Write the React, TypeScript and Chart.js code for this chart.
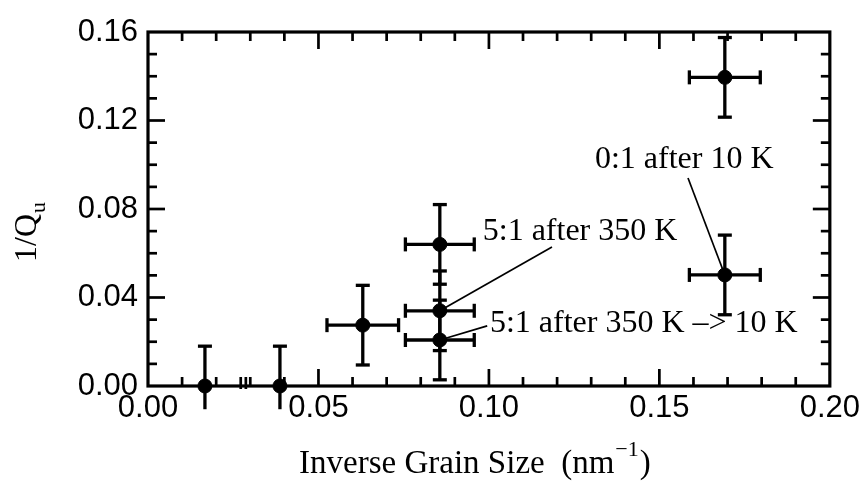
import React, { useEffect, useRef } from "react";
import { Chart, registerables } from "chart.js";

Chart.register(...registerables);

// ---- data ----
const xValues = [0.0167, 0.0387, 0.063, 0.0856, 0.0856, 0.0856, 0.1692, 0.1692];
const yValues = [0.0, 0.0, 0.0275, 0.064, 0.034, 0.0208, 0.1395, 0.0502];
const xErrors = [0, 0, 0.0105, 0.0101, 0.0101, 0.0101, 0.0104, 0.0104];
const yErrorsPlus = [0.018, 0.018, 0.018, 0.018, 0.018, 0.018, 0.018, 0.018];
const yErrorsMinus = [0.0105, 0.0105, 0.018, 0.018, 0.018, 0.018, 0.018, 0.018];

const xMin = 0;
const xMax = 0.2;
const xMajorStep = 0.05;
const xMinorStep = 0.01;
const yMin = 0;
const yMax = 0.16;
const yMajorStep = 0.04;
const yMinorStep = 0.01;
const axisBreakValues = [0.0272, 0.0287];

// annotations: text, text anchor (data units, left/baseline), leader from point index to end
const annotationTexts = ["5:1 after 350 K", "5:1 after 350 K \u2013> 10 K", "0:1 after 10 K"];
const annotationX = [0.0982, 0.1003, 0.1311];
const annotationY = [0.066, 0.0244, 0.0986];
const leaderPointIndex = [4, 5, 7];
const leaderEndX = [0.1185, 0.0995, 0.1584];
const leaderEndY = [0.0628, 0.0272, 0.094];

const xTitleMain = "Inverse Grain Size  (nm";
const xTitleSup = "\u22121";
const xTitleEnd = ")";
const yTitleMain = "1/Q";
const yTitleSub = "u";

const SERIF = "'Liberation Serif', 'Times New Roman', serif";
const SANS = "'Liberation Sans', Arial, sans-serif";

export default function App() {
  const ref = useRef<HTMLCanvasElement>(null);

  useEffect(() => {
    document.body.style.margin = "0";
    const canvas = ref.current;
    if (!canvas) return;

    const line = (ctx: CanvasRenderingContext2D, x1: number, y1: number, x2: number, y2: number) => {
      ctx.beginPath();
      ctx.moveTo(x1, y1);
      ctx.lineTo(x2, y2);
      ctx.stroke();
    };

    const decor = {
      id: "decor",
      beforeDatasetsDraw(chart: any) {
        const ctx: CanvasRenderingContext2D = chart.ctx;
        const xs = chart.scales.x;
        const ys = chart.scales.y;
        ctx.save();
        ctx.strokeStyle = "#000";
        ctx.lineCap = "butt";
        const cap = 7;
        // error bars
        ctx.lineWidth = 3.3;
        for (let i = 0; i < xValues.length; i++) {
          const px = xs.getPixelForValue(xValues[i]);
          const py = ys.getPixelForValue(yValues[i]);
          const top = ys.getPixelForValue(yValues[i] + yErrorsPlus[i]);
          const lowVal = yValues[i] - yErrorsMinus[i];
          const bot = ys.getPixelForValue(lowVal);
          line(ctx, px, top, px, bot);
          line(ctx, px - cap, top, px + cap, top);
          if (lowVal >= yMin) line(ctx, px - cap, bot, px + cap, bot);
          if (xErrors[i] > 0) {
            const l = xs.getPixelForValue(xValues[i] - xErrors[i]);
            const r = xs.getPixelForValue(xValues[i] + xErrors[i]);
            line(ctx, l, py, r, py);
            line(ctx, l, py - cap, l, py + cap);
            line(ctx, r, py - cap, r, py + cap);
          }
        }
        // leader lines
        ctx.lineWidth = 1.7;
        for (let a = 0; a < annotationTexts.length; a++) {
          const i = leaderPointIndex[a];
          line(
            ctx,
            xs.getPixelForValue(xValues[i]),
            ys.getPixelForValue(yValues[i]),
            xs.getPixelForValue(leaderEndX[a]),
            ys.getPixelForValue(leaderEndY[a])
          );
        }
        ctx.restore();
      },
      afterDraw(chart: any) {
        const ctx: CanvasRenderingContext2D = chart.ctx;
        const xs = chart.scales.x;
        const ys = chart.scales.y;
        const { left, right, top, bottom } = chart.chartArea;
        ctx.save();
        ctx.strokeStyle = "#000";
        ctx.fillStyle = "#000";
        // ticks (inward, mirrored)
        ctx.lineWidth = 2.7;
        const majorLen = 17;
        const minorLen = 9;
        const nx = Math.round((xMax - xMin) / xMinorStep);
        const perMajorX = Math.round(xMajorStep / xMinorStep);
        for (let k = 1; k < nx; k++) {
          const v = xMin + k * xMinorStep;
          const px = xs.getPixelForValue(v);
          const len = k % perMajorX === 0 ? majorLen : minorLen;
          line(ctx, px, bottom, px, bottom - len);
          line(ctx, px, top, px, top + len);
        }
        const ny = Math.round((yMax - yMin) / yMinorStep);
        const perMajorY = Math.round(yMajorStep / yMinorStep);
        for (let k = 1; k < ny; k++) {
          const v = yMin + k * yMinorStep;
          const py = ys.getPixelForValue(v);
          const len = k % perMajorY === 0 ? majorLen : minorLen;
          line(ctx, left, py, left + len, py);
          line(ctx, right, py, right - len, py);
        }
        // axis break marks
        ctx.lineWidth = 2.7;
        for (const b of axisBreakValues) {
          const px = xs.getPixelForValue(b);
          line(ctx, px, bottom - 9, px, bottom + 3);
        }
        // frame
        ctx.lineWidth = 3.2;
        ctx.strokeRect(left, top, right - left, bottom - top);

        // annotation texts
        ctx.font = `32px ${SERIF}`;
        ctx.textAlign = "left";
        ctx.textBaseline = "alphabetic";
        for (let a = 0; a < annotationTexts.length; a++) {
          ctx.fillText(
            annotationTexts[a],
            xs.getPixelForValue(annotationX[a]),
            ys.getPixelForValue(annotationY[a])
          );
        }

        // x title
        ctx.font = `33px ${SERIF}`;
        const w1 = ctx.measureText(xTitleMain).width;
        ctx.font = `22px ${SERIF}`;
        const w2 = ctx.measureText(xTitleSup).width;
        ctx.font = `33px ${SERIF}`;
        const w3 = ctx.measureText(xTitleEnd).width;
        const total = w1 + w2 + w3 + 2;
        let tx = (left + right) / 2 - 14 - total / 2;
        const ty = 473;
        ctx.fillText(xTitleMain, tx, ty);
        tx += w1 + 1;
        ctx.font = `22px ${SERIF}`;
        ctx.fillText(xTitleSup, tx, ty - 17);
        tx += w2 + 1;
        ctx.font = `33px ${SERIF}`;
        ctx.fillText(xTitleEnd, tx, ty);

        // y title (rotated)
        ctx.save();
        ctx.translate(36, 262);
        ctx.rotate(-Math.PI / 2);
        ctx.font = `32px ${SERIF}`;
        ctx.fillText(yTitleMain, 0, 0);
        const wq = ctx.measureText(yTitleMain).width;
        ctx.font = `22px ${SERIF}`;
        ctx.fillText(yTitleSub, wq + 1, 9);
        ctx.restore();

        ctx.restore();
      },
    };

    const chart = new Chart(canvas, {
      type: "scatter",
      data: {
        datasets: [
          {
            data: xValues.map((x, i) => ({ x, y: yValues[i] })),
            backgroundColor: "#000",
            borderColor: "#000",
            pointRadius: 7,
            pointHoverRadius: 7,
            clip: false as any,
          },
        ],
      },
      options: {
        responsive: false,
        animation: false,
        events: [],
        layout: { padding: { top: 32, right: 34, left: 0, bottom: 0 } },
        plugins: {
          legend: { display: false },
          tooltip: { enabled: false },
        },
        scales: {
          x: {
            type: "linear",
            min: xMin,
            max: xMax,
            grid: { display: false, drawTicks: false },
            border: { display: false },
            ticks: {
              stepSize: xMajorStep,
              color: "#000",
              font: { family: SANS, size: 31 },
              padding: 4,
              maxRotation: 0,
              autoSkip: false,
              callback: (v: any) => Number(v).toFixed(2),
            },
            afterFit: (s: any) => {
              s.height = 104;
            },
          },
          y: {
            type: "linear",
            min: yMin,
            max: yMax,
            grid: { display: false, drawTicks: false },
            border: { display: false },
            ticks: {
              stepSize: yMajorStep,
              color: "#000",
              font: { family: SANS, size: 31 },
              padding: 10,
              autoSkip: false,
              callback: (v: any) => Number(v).toFixed(2),
            },
            afterFit: (s: any) => {
              s.width = 148;
            },
          },
        },
      },
      plugins: [decor],
    });

    return () => chart.destroy();
  }, []);

  return (
    <div style={{ width: 864, height: 490, background: "#fff" }}>
      <canvas ref={ref} width={864} height={490} style={{ display: "block" }} />
    </div>
  );
}
